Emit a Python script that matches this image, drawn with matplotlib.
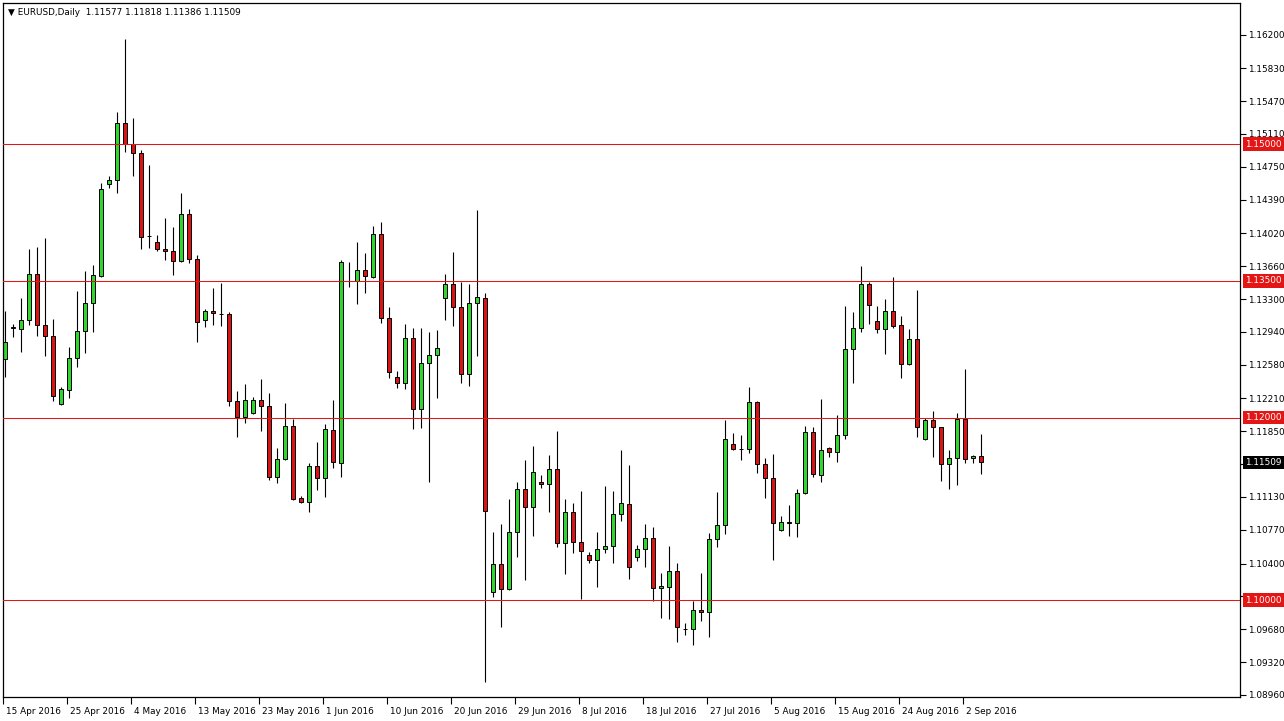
import numpy as np
import matplotlib
matplotlib.use('Agg')
import matplotlib.pyplot as plt
from matplotlib.transforms import ScaledTranslation, blended_transform_factory

# EURUSD daily bars, 15 Apr 2016 -> 5 Sep 2016 (broker feed includes Sunday bars)
opens = [1.12639, 1.12982, 1.12968, 1.13070, 1.13571, 1.13015, 1.12895, 1.12149, 1.12303, 1.12650,
         1.12946, 1.13253, 1.13556, 1.14558, 1.14602, 1.15227, 1.14997, 1.14898, 1.13990, 1.13925,
         1.13845, 1.13827, 1.13720, 1.14229, 1.13736, 1.13073, 1.13166, 1.13140, 1.13136, 1.12185,
         1.12010, 1.12054, 1.12190, 1.12124, 1.11345, 1.11543, 1.11908, 1.11115, 1.11071, 1.11469,
         1.11334, 1.11864, 1.11506, 1.13501, 1.13501, 1.13615, 1.13545, 1.14010, 1.13089, 1.12448,
         1.12376, 1.12870, 1.12091, 1.12595, 1.12683, 1.13308, 1.13462, 1.13209, 1.12481, 1.13253,
         1.13308, 1.10091, 1.10395, 1.10124, 1.10742, 1.11214, 1.11016, 1.11294, 1.11269, 1.11433,
         1.10622, 1.10962, 1.10633, 1.10490, 1.10435, 1.10556, 1.10589, 1.10940, 1.11049, 1.10468,
         1.10556, 1.10680, 1.10128, 1.10146, 1.10318, 1.09685, 1.09679, 1.09890, 1.09865, 1.10666,
         1.10819, 1.11707, 1.11659, 1.11659, 1.12168, 1.11488, 1.11334, 1.10768, 1.10859, 1.10841,
         1.11170, 1.11839, 1.11367, 1.11663, 1.11626, 1.11806, 1.12749, 1.12979, 1.13465, 1.13059,
         1.12968, 1.13169, 1.13012, 1.12591, 1.12862, 1.11762, 1.11970, 1.11894, 1.11488, 1.11554,
         1.11981, 1.11554, 1.11577]
highs = [1.13169, 1.13026, 1.13315, 1.13845, 1.13874, 1.13973, 1.13084, 1.12339, 1.12777, 1.13388,
         1.13611, 1.13673, 1.14576, 1.14649, 1.15354, 1.16151, 1.15288, 1.14934, 1.14770, 1.14002,
         1.14185, 1.14093, 1.14466, 1.14287, 1.13780, 1.13191, 1.13421, 1.13476, 1.13158, 1.12292,
         1.12368, 1.12229, 1.12427, 1.12266, 1.11670, 1.12160, 1.11985, 1.11144, 1.11499, 1.11729,
         1.11930, 1.12193, 1.13728, 1.13703, 1.13925, 1.13808, 1.14101, 1.14141, 1.13209, 1.12514,
         1.13023, 1.12979, 1.12979, 1.12935, 1.12961, 1.13575, 1.13813, 1.13490, 1.13462, 1.14276,
         1.13363, 1.10749, 1.10833, 1.11107, 1.11294, 1.11535, 1.11689, 1.11371, 1.11590, 1.11853,
         1.11104, 1.11060, 1.11195, 1.10523, 1.10742, 1.11250, 1.11195, 1.11645, 1.11480, 1.10600,
         1.10833, 1.10797, 1.10293, 1.10595, 1.10409, 1.09745, 1.09992, 1.10299, 1.10731, 1.11184,
         1.11974, 1.11834, 1.11809, 1.12339, 1.12182, 1.11554, 1.11601, 1.10921, 1.11042, 1.11217,
         1.11908, 1.11894, 1.12204, 1.11681, 1.12029, 1.13224, 1.13158, 1.13666, 1.13490, 1.13224,
         1.13300, 1.13545, 1.13114, 1.12968, 1.13399, 1.11999, 1.12072, 1.11900, 1.11645, 1.12047,
         1.12530, 1.11590, 1.11818]
lows = [1.12445, 1.12884, 1.12723, 1.13019, 1.12895, 1.12679, 1.12182, 1.12138, 1.12218, 1.12552,
        1.12705, 1.12942, 1.13538, 1.14514, 1.14466, 1.14916, 1.14652, 1.13845, 1.13856, 1.13830,
        1.13728, 1.13564, 1.13709, 1.13692, 1.12826, 1.12997, 1.13019, 1.13008, 1.12127, 1.11791,
        1.11944, 1.12039, 1.11856, 1.11316, 1.11280, 1.11535, 1.11096, 1.11060, 1.10968, 1.11206,
        1.11133, 1.11444, 1.11352, 1.13435, 1.13242, 1.13369, 1.13527, 1.13041, 1.12437, 1.12328,
        1.12310, 1.11875, 1.11889, 1.11297, 1.12218, 1.13070, 1.13004, 1.12383, 1.12346, 1.12675,
        1.09104, 1.10030, 1.09701, 1.10110, 1.10475, 1.10219, 1.10705, 1.11231, 1.10968, 1.10578,
        1.10282, 1.10512, 1.10011, 1.10402, 1.10146, 1.10512, 1.10409, 1.10866, 1.10230, 1.10431,
        1.10365, 1.09989, 1.09806, 1.09788, 1.09543, 1.09616, 1.09507, 1.09773, 1.09598, 1.10578,
        1.10720, 1.11645, 1.11535, 1.11609, 1.11396, 1.11122, 1.10439, 1.10760, 1.10705, 1.10694,
        1.11162, 1.11352, 1.11297, 1.11565, 1.11516, 1.11762, 1.12383, 1.12942, 1.13026, 1.12931,
        1.12697, 1.12986, 1.12437, 1.12577, 1.11791, 1.11754, 1.11571, 1.11308, 1.11220, 1.11261,
        1.11499, 1.11499, 1.11386]
closes = [1.12826, 1.12988, 1.13067, 1.13571, 1.13012, 1.12895, 1.12237, 1.12314, 1.12650, 1.12946,
          1.13253, 1.13560, 1.14503, 1.14602, 1.15227, 1.14997, 1.14898, 1.13984, 1.13992, 1.13845,
          1.13827, 1.13720, 1.14229, 1.13736, 1.13045, 1.13169, 1.13144, 1.13138, 1.12185, 1.12010,
          1.12190, 1.12190, 1.12124, 1.11345, 1.11543, 1.11908, 1.11104, 1.11071, 1.11469, 1.11334,
          1.11875, 1.11508, 1.13703, 1.13499, 1.13615, 1.13549, 1.14010, 1.13089, 1.12503, 1.12376,
          1.12870, 1.12091, 1.12595, 1.12683, 1.12760, 1.13462, 1.13209, 1.12481, 1.13253, 1.13319,
          1.10979, 1.10391, 1.10124, 1.10742, 1.11214, 1.11016, 1.11404, 1.11269, 1.11433, 1.10622,
          1.10962, 1.10633, 1.10534, 1.10435, 1.10556, 1.10589, 1.10940, 1.11060, 1.10359, 1.10556,
          1.10680, 1.10128, 1.10154, 1.10318, 1.09707, 1.09687, 1.09890, 1.09865, 1.10666, 1.10819,
          1.11762, 1.11659, 1.11661, 1.12168, 1.11488, 1.11334, 1.10841, 1.10859, 1.10841, 1.11170,
          1.11839, 1.11378, 1.11641, 1.11626, 1.11806, 1.12749, 1.12979, 1.13465, 1.13231, 1.12968,
          1.13169, 1.13004, 1.12591, 1.12862, 1.11900, 1.11970, 1.11894, 1.11488, 1.11554, 1.11981,
          1.11543, 1.11579, 1.11509]

date_labels = ['15 Apr 2016', '25 Apr 2016', '4 May 2016', '13 May 2016', '23 May 2016',
               '1 Jun 2016', '10 Jun 2016', '20 Jun 2016', '29 Jun 2016', '8 Jul 2016',
               '18 Jul 2016', '27 Jul 2016', '5 Aug 2016', '15 Aug 2016', '24 Aug 2016', '2 Sep 2016']
price_ticks = [1.16200, 1.15830, 1.15470, 1.15110, 1.14750, 1.14390, 1.14020, 1.13660, 1.13300,
               1.12940, 1.12580, 1.12210, 1.11850, 1.11490, 1.11130, 1.10770, 1.10400, 1.10040,
               1.09680, 1.09320, 1.08960]
hidden_ticks = [1.11490, 1.10040]   # covered by the price tags in the terminal
levels = [1.15000, 1.13500, 1.12000, 1.10000]

BULL = '#30d530'
BEAR = '#d81414'
LEVEL = '#e31515'
FS = 6.4

o = np.array(opens)
c = np.array(closes)
x = np.arange(len(o))

fig = plt.figure(figsize=(12.84, 7.21), dpi=100)
ax = fig.add_axes([3 / 1284, 24 / 721, 1237 / 1284, 694 / 721])

# wicks then bodies
ax.vlines(x, lows, highs, color='black', lw=0.8, zorder=1)
cols = [BULL if cc > oo else BEAR for oo, cc in zip(o, c)]
ax.bar(x, c - o, bottom=o, width=0.52, color=cols, edgecolor='black', linewidth=0.7, zorder=2)

for lv in levels:
    ax.axhline(lv, color=LEVEL, lw=0.75, zorder=3)

ax.set_xlim(-0.29, 154.34)
ax.set_ylim(1.089364, 1.165461)

# right price scale
ax.yaxis.tick_right()
ax.set_yticks(price_ticks)
ax.set_yticklabels(['' if t in hidden_ticks else f'{t:.5f}' for t in price_ticks])
ax.tick_params(axis='y', direction='out', length=4, width=0.8, pad=2, labelsize=FS)

# date scale, labels start just right of the tick
ax.set_xticks(np.arange(len(date_labels)) * 8 - 0.3)
ax.set_xticklabels(date_labels)
ax.tick_params(axis='x', direction='out', length=5, width=0.8, pad=2, labelsize=FS)
shift = ScaledTranslation(2 / 72, 0, fig.dpi_scale_trans)
for lbl in ax.get_xticklabels():
    lbl.set_ha('left')
    lbl.set_transform(lbl.get_transform() + shift)

for s in ax.spines.values():
    s.set_linewidth(0.9)

# price tags on the scale
tr = blended_transform_factory(ax.transAxes, ax.transData)
tag = dict(boxstyle='square,pad=0.25', ec='none')
for lv in levels:
    ax.text(1.004, lv, f'{lv:.5f}', transform=tr, ha='left', va='center', fontsize=FS,
            color='white', clip_on=False, zorder=5, bbox=dict(tag, fc=LEVEL))
ax.text(1.004, closes[-1], f'{closes[-1]:.5f}', transform=tr, ha='left', va='center',
        fontsize=FS, color='white', clip_on=False, zorder=5, bbox=dict(tag, fc='black'))

ax.text(0.004, 0.993, '\u25bc EURUSD,Daily  ' + ' '.join(f'{v:.5f}' for v in
        (opens[-1], highs[-1], lows[-1], closes[-1])),
        transform=ax.transAxes, ha='left', va='top', fontsize=FS)

fig.savefig('out.png', dpi=100, facecolor='white')
